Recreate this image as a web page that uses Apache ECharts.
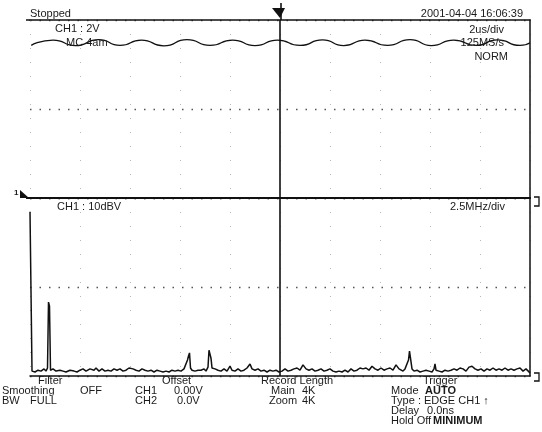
<!DOCTYPE html>
<html><head><meta charset="utf-8">
<script src="https://cdn.jsdelivr.net/npm/echarts@6/dist/echarts.min.js"></script>
<style>html,body{margin:0;padding:0;background:#fff}#c{width:542px;height:432px}</style>
</head><body><div id="c"></div>
<script>
// Top trace (CH1, 2 V/div, 2 us/div): time in us, voltage in V (crests / troughs)
var waveTimeUs = [0.05, 0.92, 1.82, 2.75, 3.6, 4.45, 5.35, 6.28, 7.2, 8.1, 9.0, 9.9, 10.8, 11.7, 12.55, 13.4, 14.3, 15.2, 16.05, 16.95, 17.85, 18.7, 19.6, 20.0];
var waveVolts  = [2.86, 3.1, 2.85, 3.12, 2.86, 3.1, 2.84, 3.12, 2.86, 3.1, 2.85, 3.1, 2.86, 3.11, 2.85, 3.1, 2.86, 3.12, 2.85, 3.1, 2.86, 3.11, 2.86, 2.98];

// Bottom trace (FFT of CH1, 10 dBV/div, 2.5 MHz/div): frequency in MHz, level in dB above bottom edge
var fftFreqMHz = [0,0.1,0.25,0.4,0.55,0.7,0.8,0.875,0.925,0.975,1.025,1.15,1.3,1.5,1.65,1.8,2.0,2.2,2.35,2.5,2.65,2.8,3.0,3.1,3.2,3.3,3.45,3.6,3.75,3.9,4.05,4.2,4.35,4.5,4.65,4.8,4.95,5.05,5.15,5.3,5.45,5.6,5.75,5.9,6.05,6.2,6.35,6.5,6.65,6.8,6.95,7.1,7.25,7.4,7.55,7.7,7.8,7.875,7.925,7.975,8.025,8.1,8.25,8.4,8.55,8.7,8.8,8.9,8.95,9.0,9.05,9.1,9.25,9.4,9.55,9.7,9.85,10.0,10.1,10.25,10.4,10.55,10.7,10.85,11.0,11.1,11.25,11.4,11.55,11.7,11.85,12.0,12.15,12.3,12.45,12.6,12.75,12.9,13.05,13.2,13.35,13.5,13.65,13.8,13.95,14.1,14.25,14.4,14.55,14.7,14.85,15.0,15.15,15.3,15.45,15.6,15.75,15.9,16.05,16.2,16.35,16.5,16.65,16.8,16.95,17.1,17.25,17.4,17.55,17.7,17.85,18.0,18.15,18.3,18.45,18.55,18.65,18.75,18.85,18.925,18.975,19.025,19.1,19.2,19.35,19.5,19.65,19.8,19.95,20.1,20.2,20.25,20.3,20.45,20.6,20.75,20.9,21.05,21.2,21.35,21.5,21.65,21.8,21.95,22.1,22.25,22.4,22.55,22.7,22.85,23.0,23.15,23.3,23.45,23.6,23.75,23.9,24.05,24.2,24.35,24.5,24.65,24.8,24.9,25.0];
var fftLevelDB = [36.9,1.1,0.9,1.3,1.1,1.6,1.1,1.8,16.6,15.7,1.3,1.6,1.1,1.3,1.1,0.9,1.3,1.1,0.9,1.3,1.6,1.1,1.6,2.0,1.3,1.8,1.1,1.6,1.1,1.3,1.1,1.6,1.3,1.6,1.1,1.3,1.8,2.0,1.6,1.3,1.1,1.6,1.3,1.1,1.3,0.9,1.3,1.1,0.9,1.1,0.9,1.3,1.1,1.3,1.1,1.6,1.3,3.6,4.5,5.2,1.8,1.3,1.1,1.3,1.3,1.6,1.1,2.0,5.8,6.1,4.0,1.8,1.6,1.3,1.1,1.6,1.1,2.2,1.3,1.1,1.6,1.1,1.3,1.8,2.7,1.6,1.3,1.6,1.1,1.3,0.9,1.3,1.1,1.3,0.9,1.1,1.6,1.1,1.3,1.6,1.8,1.3,2.5,1.6,1.3,1.6,1.1,1.3,1.6,1.1,1.3,1.6,1.1,0.9,1.1,0.9,1.3,0.9,1.6,1.1,1.3,1.8,1.6,1.8,1.3,2.2,1.6,1.3,1.8,1.3,1.6,1.8,1.3,2.5,1.6,1.8,1.1,1.6,1.8,3.6,5.6,4.0,1.6,1.1,1.3,0.9,1.1,1.3,1.1,0.9,1.6,2.7,1.3,1.1,0.9,1.3,1.1,1.3,1.6,1.3,1.8,1.6,1.1,2.0,2.2,1.6,1.3,1.6,1.1,1.6,1.3,1.8,1.3,1.6,1.3,1.8,1.3,1.6,1.3,1.6,1.8,1.1,1.6,1.3,0.7];

var tickTimeUs = [0, 20];
var tickFreqMHz = [0, 25];

var wavePts = waveTimeUs.map(function(t, i){ return [t, waveVolts[i]]; });
var fftPts = fftFreqMHz.map(function(f, i){ return [f, fftLevelDB[i]]; });

var FONT = '11px "Liberation Sans", Arial, sans-serif';
var INK = '#1a1a1a';
function txt(s, x, y, align, extra){
  var o = {type:'text', x:x, y:y, silent:true, z:50,
    style:{text:s, font:FONT, fill:INK, align:align||'left', verticalAlign:'middle'}};
  if (extra) for (var k in extra) o.style[k] = extra[k];
  return o;
}
var faint = {show:true, lineStyle:{color:'#b8b8b8', width:1, type:[1,13]}};

var chart = echarts.init(document.getElementById('c'), null, {renderer:'canvas'});
chart.setOption({
  animation:false,
  backgroundColor:'#ffffff',
  grid:[
    {left:30, top:20, width:500, height:178},
    {left:30, top:198, width:500, height:178}
  ],
  xAxis:[
    {gridIndex:0, type:'value', min:tickTimeUs[0], max:tickTimeUs[1], interval:2, position:'top',
     axisLine:{show:true, onZero:false, lineStyle:{color:'#111', width:1.5}}, axisTick:{show:false}, axisLabel:{show:false},
     splitLine:faint},
    {gridIndex:1, type:'value', min:tickFreqMHz[0], max:tickFreqMHz[1], interval:2.5, position:'bottom',
     axisLine:{show:true, onZero:false, lineStyle:{color:'#111', width:1.5}}, axisTick:{show:false}, axisLabel:{show:false},
     splitLine:faint},
    {gridIndex:1, type:'value', min:tickFreqMHz[0], max:tickFreqMHz[1], position:'top',
     axisLine:{show:true, onZero:false, lineStyle:{color:'#111', width:2}}, axisTick:{show:false}, axisLabel:{show:false},
     splitLine:{show:false}}
  ],
  yAxis:[
    {gridIndex:0, type:'value', min:-4, max:4, interval:4, position:'right',
     axisLine:{show:true, onZero:false, lineStyle:{color:'#111', width:1.5}}, axisTick:{show:false}, axisLabel:{show:false},
     splitLine:{show:true, lineStyle:{color:'#555', width:1.3, type:[1.5,8]}}},
    {gridIndex:1, type:'value', min:0, max:40, interval:20, position:'right',
     axisLine:{show:true, onZero:false, lineStyle:{color:'#111', width:1.5}}, axisTick:{show:false}, axisLabel:{show:false},
     splitLine:{show:true, lineStyle:{color:'#555', width:1.3, type:[1.5,8]}}}
  ],
  series:[
    {type:'line', xAxisIndex:0, yAxisIndex:0, data:wavePts, smooth:0.6, showSymbol:false, silent:true,
     lineStyle:{color:'#111', width:1.3},
     markLine:{silent:true, symbol:['none','none'], label:{show:false},
       lineStyle:{color:'#111', width:1.6, type:'solid'}, data:[{xAxis:10}]}},
    {type:'line', xAxisIndex:1, yAxisIndex:1, data:fftPts, showSymbol:false, silent:true,
     lineStyle:{color:'#111', width:1.5},
     markLine:{silent:true, symbol:['none','none'], label:{show:false},
       lineStyle:{color:'#111', width:1.6, type:'solid'}, data:[{xAxis:12.5}]}}
  ],
  graphic:[
    txt('Stopped', 30, 14, 'left'),
    txt('2001-04-04 16:06:39', 523, 14, 'right'),
    txt('CH1 : 2V', 55, 29, 'left'),
    txt('MC 4am', 66, 43, 'left'),
    txt('2us/div', 504, 30, 'right'),
    txt('125MS/s', 504, 43, 'right'),
    txt('NORM', 508, 57, 'right'),
    txt('CH1 : 10dBV', 57, 207, 'left'),
    txt('2.5MHz/div', 505, 207, 'right'),
    txt('Filter', 38, 381, 'left'),
    txt('Smoothing', 2, 391, 'left'),
    txt('OFF', 80, 391, 'left'),
    txt('BW', 2, 401, 'left'),
    txt('FULL', 30, 401, 'left'),
    txt('Offset', 162, 381, 'left'),
    txt('CH1', 135, 391, 'left'),
    txt('0.00V', 174, 391, 'left'),
    txt('CH2', 135, 401, 'left'),
    txt('0.0V', 177, 401, 'left'),
    txt('Record Length', 261, 381, 'left'),
    txt('Main', 271, 391, 'left'),
    txt('4K', 302, 391, 'left'),
    txt('Zoom', 269, 401, 'left'),
    txt('4K', 302, 401, 'left'),
    txt('Trigger', 423, 381, 'left'),
    txt('Mode', 391, 391, 'left'),
    txt('AUTO', 425, 391, 'left', {font:'bold 11px "Liberation Sans", Arial, sans-serif'}),
    txt('Type : EDGE CH1 \u2191', 391, 401, 'left'),
    txt('Delay', 391, 411, 'left'),
    txt('0.0ns', 427, 411, 'left'),
    txt('Hold Off', 391, 421, 'left'),
    txt('MINIMUM', 433, 421, 'left', {font:'bold 11px "Liberation Sans", Arial, sans-serif'}),
    // trigger position marker (top)
    {type:'polygon', silent:true, z:50, shape:{points:[[272,8],[285,8],[280,18]]}, style:{fill:'#111'}},
    {type:'line', silent:true, z:50, shape:{x1:281, y1:3, x2:281, y2:20}, style:{stroke:'#111', lineWidth:1.6}},
    // channel 1 ground marker (left)
    txt('1', 14, 193, 'left', {font:'bold 8px "Liberation Sans", Arial, sans-serif'}),
    {type:'polygon', silent:true, z:50, shape:{points:[[20,190],[29,198],[20,198]]}, style:{fill:'#111'}},
    {type:'line', silent:true, z:50, shape:{x1:26, y1:198, x2:30, y2:198}, style:{stroke:'#111', lineWidth:2}},
    {type:'line', silent:true, z:50, shape:{x1:26, y1:20, x2:30, y2:20}, style:{stroke:'#111', lineWidth:1.5}},
    // right-side level markers
    {type:'polyline', silent:true, z:50, shape:{points:[[534,197],[539,197],[539,206],[534,206]]}, style:{stroke:'#111', lineWidth:1.3, fill:null}},
    {type:'polyline', silent:true, z:50, shape:{points:[[534,373],[539,373],[539,381],[534,381]]}, style:{stroke:'#111', lineWidth:1.3, fill:null}}
  ]
});
</script></body></html>
